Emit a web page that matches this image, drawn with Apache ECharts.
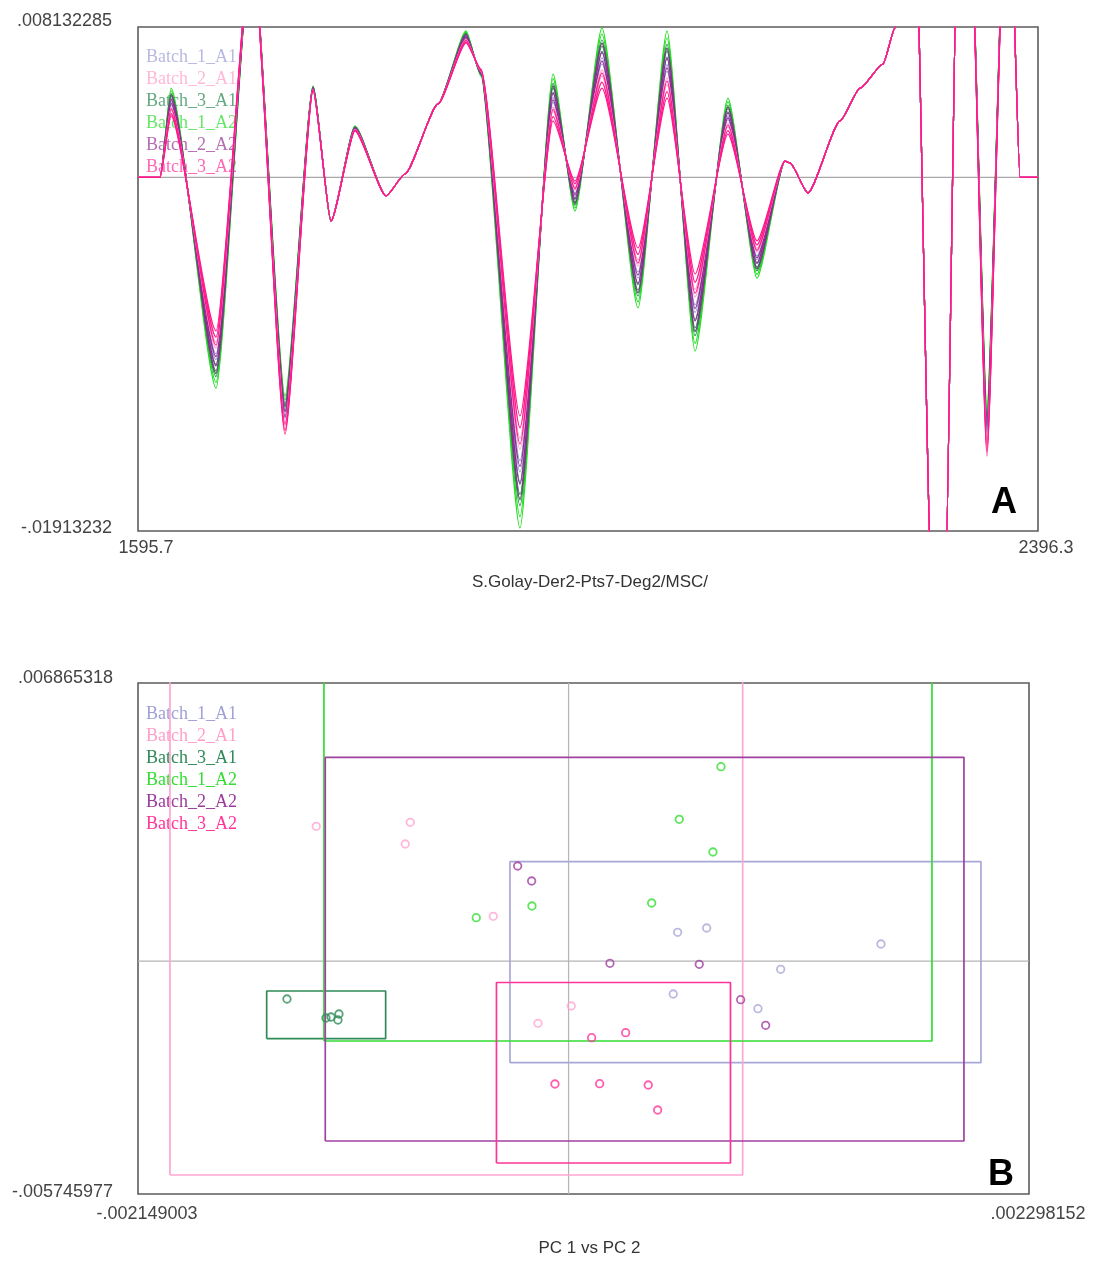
<!DOCTYPE html>
<html>
<head>
<meta charset="utf-8">
<script src="https://cdn.jsdelivr.net/npm/echarts@6/dist/echarts.min.js"></script>
<style>
  html, body { margin: 0; padding: 0; background: #fff; }
  #chart { width: 1093px; height: 1262px; }
</style>
</head>
<body>
<div id="chart"></div>
<script>
// ---------------- DATA ----------------
const batchNames = ['Batch_1_A1', 'Batch_2_A1', 'Batch_3_A1', 'Batch_1_A2', 'Batch_2_A2', 'Batch_3_A2'];

// Panel A: spectra (wavelength vertices, nm)
const wavelengths = [1595.7, 1615.3, 1625.1, 1665.1, 1697.1, 1726.5, 1751.4, 1767.4, 1788.7, 1816.3,
  1833.2, 1862.6, 1887.5, 1900.8, 1935.5, 1964.9, 1984.4, 2008.4, 2040.5, 2066.3,
  2091.2, 2120.5, 2146.3, 2171.2, 2175.7, 2191.7, 2220.2, 2238.0, 2258.4, 2269.1,
  2278.0, 2286.9, 2302.0, 2313.6, 2325.1, 2335.8, 2350.9, 2367.0, 2371.4, 2380.3,
  2396.3];
// values common to all samples (null = sample specific peak / trough)
const sharedSpectrum = [0, 0, null, null, 0.01279, null, null, -0.00236, null, -0.00101,
  0.00018, 0.00397, null, null, null, null, null, null, null, null,
  null, null, null, 0.00088, 0.00078, -0.00085, 0.00305, 0.00483, 0.00613, 0.00808,
  0.01279, 0.01495, -0.02292, -0.02292, 0.01495, 0.01495, null, 0.01495, 0.01495, 0,
  0];
// positions (indices into wavelengths) of the sample specific peaks / troughs
const peakIndex = [2, 3, 5, 6, 8, 12, 13, 14, 15, 16, 17, 18, 19, 20, 21, 22, 36];

// sample specific peak / trough values, one row per sample
const batch1A1Peaks = [
  [0.00392, -0.00955, -0.01306, 0.00478, 0.00261, 0.00753, 0.00571, -0.01534, 0.00406, -0.00085, 0.00613, -0.00512, 0.00574, -0.0069, 0.00312, -0.00425, -0.01399],
  [0.00408, -0.00986, -0.01286, 0.00481, 0.00264, 0.00759, 0.00567, -0.01594, 0.00432, -0.00101, 0.00646, -0.00545, 0.0061, -0.00731, 0.00332, -0.00445, -0.01372],
  [0.00423, -0.01016, -0.01265, 0.00483, 0.00267, 0.00766, 0.00563, -0.01655, 0.00457, -0.00117, 0.00678, -0.00577, 0.00647, -0.00773, 0.00351, -0.00465, -0.01345]
];
const batch2A1Peaks = [
  [0.00347, -0.00862, -0.01368, 0.0047, 0.00253, 0.00733, 0.00582, -0.01352, 0.0033, -0.00036, 0.00516, -0.00415, 0.00465, -0.00565, 0.00254, -0.00364, -0.0148],
  [0.00362, -0.00893, -0.01347, 0.00472, 0.00256, 0.0074, 0.00578, -0.01412, 0.00356, -0.00052, 0.00548, -0.00447, 0.00502, -0.00606, 0.00273, -0.00384, -0.01453],
  [0.00377, -0.00924, -0.01327, 0.00475, 0.00259, 0.00746, 0.00575, -0.01473, 0.00381, -0.00069, 0.00581, -0.0048, 0.00538, -0.00648, 0.00293, -0.00405, -0.01426]
];
const batch3A1Peaks = [
  [0.00425, -0.01012, -0.01262, 0.00484, 0.00268, 0.00765, 0.00562, -0.01650, 0.00460, -0.00119, 0.00682, -0.00580, 0.00650, -0.00770, 0.00354, -0.00467, -0.01342],
  [0.00438, -0.01047, -0.01245, 0.00486, 0.0027, 0.00772, 0.0056, -0.01715, 0.00483, -0.00133, 0.0071, -0.0061, 0.00683, -0.00815, 0.00371, -0.00485, -0.01318],
  [0.00453, -0.01078, -0.01224, 0.00489, 0.00272, 0.00779, 0.00556, -0.01776, 0.00508, -0.0015, 0.00743, -0.00642, 0.00719, -0.00856, 0.0039, -0.00505, -0.01291]
];
const batch1A2Peaks = [
  [0.00445, -0.01063, -0.01234, 0.00487, 0.00271, 0.00775, 0.00558, -0.01746, 0.00495, -0.00142, 0.00727, -0.00626, 0.00701, -0.00835, 0.00381, -0.00495, -0.01305],
  [0.00468, -0.01109, -0.01204, 0.00491, 0.00275, 0.00785, 0.00552, -0.01836, 0.00534, -0.00166, 0.00775, -0.00674, 0.00755, -0.00898, 0.0041, -0.00525, -0.01264],
  [0.00483, -0.0114, -0.01183, 0.00494, 0.00278, 0.00792, 0.00548, -0.01897, 0.00559, -0.00182, 0.00808, -0.00707, 0.00792, -0.0094, 0.00429, -0.00545, -0.01237]
];
const batch2A2Peaks = [
  [0.004, -0.0097, -0.01296, 0.00479, 0.00263, 0.00756, 0.00569, -0.01564, 0.00419, -0.00093, 0.00629, -0.00528, 0.00592, -0.0071, 0.00322, -0.00435, -0.01386],
  [0.0042, -0.01020, -0.01268, 0.00482, 0.00266, 0.00764, 0.00564, -0.01660, 0.00455, -0.00115, 0.00675, -0.00574, 0.00644, -0.00777, 0.00349, -0.00462, -0.01348],
  [0.00447, -0.01060, -0.01237, 0.00487, 0.00271, 0.00774, 0.00559, -0.01740, 0.00493, -0.00140, 0.00725, -0.00624, 0.00698, -0.00833, 0.00379, -0.00493, -0.01308]
];
const batch3A2Peaks = [
  [0.00332, -0.00831, -0.01389, 0.00467, 0.00251, 0.00727, 0.00586, -0.01291, 0.00305, -0.0002, 0.00483, -0.00382, 0.00429, -0.00523, 0.00234, -0.00344, -0.01508],
  [0.00345, -0.00865, -0.01370, 0.0047, 0.00253, 0.00733, 0.00582, -0.01355, 0.00328, -0.00035, 0.00514, -0.00417, 0.00463, -0.00568, 0.00252, -0.00366, -0.01482],
  [0.0037, -0.00908, -0.01337, 0.00474, 0.00257, 0.00743, 0.00577, -0.01443, 0.00368, -0.00061, 0.00564, -0.00464, 0.0052, -0.00627, 0.00283, -0.00395, -0.0144]
];

const spectraXLabels = ['1595.7', '2396.3'];
const spectraYLabels = ['-.01913232', '.008132285'];
const spectraXRange = [1595.7, 2396.3];
const spectraYRange = [-0.01913232, 0.008132285];

// Panel B: PCA scores [PC1, PC2]
const scoresBatch1A1 = [[0.0005445, 0.0007132], [0.0006893, 0.0008194], [0.0015592, 0.0004245], [0.0010586, -0.0001999], [0.0005226, -0.0008095], [0.0009453, -0.0011723]];
const scoresBatch2A1 = [[-0.0012593, 0.0033293], [-0.0007901, 0.003428], [-0.0008151, 0.0028925], [-0.0003758, 0.0011081], [0.0000135, -0.0011057], [-0.0001527, -0.0015326]];
const scoresBatch3A1 = [[-0.0014055, -0.0009329], [-0.0012109, -0.0014018], [-0.0011859, -0.0013771], [-0.001146, -0.0013031], [-0.001151, -0.0014512]];
const scoresBatch1A2 = [[0.0007607, 0.0048002], [0.0005525, 0.003502], [0.0007207, 0.002695], [0.0004148, 0.0014364], [-0.0001827, 0.0013623], [-0.0004607, 0.0010736]];
const scoresBatch2A2 = [[-0.0002541, 0.0023495], [-0.0001842, 0.0019793], [0.0002066, -0.0000518], [0.0006523, -0.0000765], [0.000859, -0.0009502], [0.0009838, -0.001582]];
const scoresBatch3A2 = [[0.0001153, -0.001888], [0.000285, -0.0017646], [-0.0000679, -0.0030307], [0.0001552, -0.0030233], [0.0003978, -0.0030553], [0.0004447, -0.0036723]];

// Panel B: batch boxes [PC1 min, PC1 max, PC2 min, PC2 max]
const boxBatch1A1 = [-0.0002925, 0.0020584, -0.002505, 0.0024556];
const boxBatch2A1 = [-0.0019895, 0.000869, -0.0052765, 0.0075];
const boxBatch3A1 = [-0.0015068, -0.0009129, -0.0019127, -0.0007355];
const boxBatch1A2 = [-0.0012209, 0.0018138, -0.0019694, 0.0075];
const boxBatch2A2 = [-0.0012143, 0.0019735, -0.0044374, 0.0050322];
const boxBatch3A2 = [-0.0003599, 0.0008081, -0.0049803, -0.0005257];

const scoresXLabels = ['-.002149003', '.002298152'];
const scoresYLabels = ['-.005745977', '.006865318'];
const scoresXRange = [-0.002149003, 0.002298152];
const scoresYRange = [-0.005745977, 0.006865318];

// ---------------- STYLE ----------------
const lineColors = {
  'Batch_1_A1': '#9c9cd8', 'Batch_2_A1': '#ff9ccc', 'Batch_3_A1': '#2e8b57',
  'Batch_1_A2': '#22dd22', 'Batch_2_A2': '#8e2c8e', 'Batch_3_A2': '#ff1a8c'
};
const legendColors = {
  'Batch_1_A1': '#a0a0d8', 'Batch_2_A1': '#ffa0c8', 'Batch_3_A1': '#2e8b57',
  'Batch_1_A2': '#33dd33', 'Batch_2_A2': '#9b3b9b', 'Batch_3_A2': '#ff3399'
};
const boxColors = {
  'Batch_1_A1': '#a8a8d8', 'Batch_2_A1': '#ffa6d2', 'Batch_3_A1': '#2e8b57',
  'Batch_1_A2': '#33dd33', 'Batch_2_A2': '#a040a0', 'Batch_3_A2': '#ff3399'
};

// ---------------- BUILD ----------------
function buildSpectrum(peaks) {
  const vals = sharedSpectrum.slice();
  peakIndex.forEach((idx, k) => { vals[idx] = peaks[k]; });
  return wavelengths.map((w, i) => [w, vals[i]]);
}
function edgeFormatter(range, labels) {
  const tol = Math.abs(range[1] - range[0]) * 1e-6;
  return function (v) {
    if (Math.abs(v - range[0]) < tol) return '{lo|' + labels[0] + '}';
    if (Math.abs(v - range[1]) < tol) return '{hi|' + labels[1] + '}';
    return '';
  };
}
function boxPath(b) {
  return [[b[0], b[2]], [b[1], b[2]], [b[1], b[3]], [b[0], b[3]], [b[0], b[2]]];
}

const tickFont = { fontFamily: 'Liberation Sans', fontSize: 18, color: '#444' };
function richLabels(loPad, hiPad) {
  return {
    lo: Object.assign({ padding: loPad }, tickFont),
    hi: Object.assign({ padding: hiPad }, tickFont)
  };
}
const peaksByBatch = {
  'Batch_1_A1': batch1A1Peaks, 'Batch_2_A1': batch2A1Peaks, 'Batch_3_A1': batch3A1Peaks,
  'Batch_1_A2': batch1A2Peaks, 'Batch_2_A2': batch2A2Peaks, 'Batch_3_A2': batch3A2Peaks
};
const drawOrder = ['Batch_1_A2', 'Batch_3_A1', 'Batch_1_A1', 'Batch_2_A2', 'Batch_2_A1', 'Batch_3_A2'];

const series = [];
// zero line for panel A
series.push({
  type: 'line', xAxisIndex: 0, yAxisIndex: 0, data: [[spectraXRange[0], 0], [spectraXRange[1], 0]],
  showSymbol: false, silent: true, lineStyle: { color: '#a8a8a8', width: 1.2 }, z: 1
});
drawOrder.forEach(name => {
  peaksByBatch[name].forEach(p => {
    series.push({
      name: name, type: 'line', xAxisIndex: 0, yAxisIndex: 0,
      data: buildSpectrum(p), showSymbol: false, clip: true, silent: true,
      smooth: 0.2, smoothMonotone: 'x',
      lineStyle: { color: lineColors[name], width: 1.2 }, itemStyle: { color: lineColors[name] },
      emphasis: { disabled: true }, z: 2
    });
  });
});
// zero lines for panel B
series.push({
  type: 'line', xAxisIndex: 1, yAxisIndex: 1, data: [[scoresXRange[0], 0], [scoresXRange[1], 0]],
  showSymbol: false, silent: true, lineStyle: { color: '#b4b4b4', width: 1.2 }, z: 1
});
series.push({
  type: 'line', xAxisIndex: 1, yAxisIndex: 1, data: [[0, scoresYRange[0]], [0, scoresYRange[1]]],
  showSymbol: false, silent: true, lineStyle: { color: '#b4b4b4', width: 1.2 }, z: 1
});
const boxes = {
  'Batch_1_A1': boxBatch1A1, 'Batch_2_A1': boxBatch2A1, 'Batch_3_A1': boxBatch3A1,
  'Batch_1_A2': boxBatch1A2, 'Batch_2_A2': boxBatch2A2, 'Batch_3_A2': boxBatch3A2
};
const scores = {
  'Batch_1_A1': scoresBatch1A1, 'Batch_2_A1': scoresBatch2A1, 'Batch_3_A1': scoresBatch3A1,
  'Batch_1_A2': scoresBatch1A2, 'Batch_2_A2': scoresBatch2A2, 'Batch_3_A2': scoresBatch3A2
};
batchNames.forEach(name => {
  series.push({
    name: name, type: 'line', xAxisIndex: 1, yAxisIndex: 1, data: boxPath(boxes[name]),
    showSymbol: false, clip: true, silent: true,
    lineStyle: { color: boxColors[name], width: 1.7 }, itemStyle: { color: boxColors[name] }, z: 2
  });
});
batchNames.forEach(name => {
  series.push({
    name: name, type: 'scatter', xAxisIndex: 1, yAxisIndex: 1, data: scores[name],
    symbol: 'circle', symbolSize: 7.5, silent: true,
    itemStyle: { color: 'rgba(255,255,255,0)', borderColor: boxColors[name], borderWidth: 1.8 }, z: 3
  });
});

function legendFor(top, opacity) {
  return {
    orient: 'vertical', left: 141, top: top, itemGap: 0, itemWidth: 0, itemHeight: 0, padding: 0,
    selectedMode: false, z: 1,
    textStyle: { fontFamily: 'Liberation Serif', fontSize: 18, lineHeight: 22 },
    data: batchNames.map(n => ({ name: n, icon: 'none', textStyle: { color: legendColors[n], opacity: opacity } }))
  };
}

const option = {
  animation: false,
  backgroundColor: '#fff',
  grid: [
    { left: 138, top: 27, width: 900, height: 504, show: true, borderColor: '#5c5c5c', borderWidth: 1.6, backgroundColor: '#fff' },
    { left: 138, top: 683, width: 891, height: 511, show: true, borderColor: '#5c5c5c', borderWidth: 1.6, backgroundColor: '#fff' }
  ],
  legend: [legendFor(46, 0.75), legendFor(703, 1)],
  xAxis: [
    {
      type: 'value', gridIndex: 0, min: spectraXRange[0], max: spectraXRange[1],
      splitLine: { show: false }, axisLine: { show: false }, axisTick: { show: false },
      axisLabel: Object.assign({ formatter: edgeFormatter(spectraXRange, spectraXLabels), margin: 8, padding: [0, 0, 0, 16], rich: richLabels([0, 0, 0, 0], [0, 0, 0, 0]) }, tickFont),
      name: 'S.Golay-Der2-Pts7-Deg2/MSC/', nameLocation: 'middle', nameGap: 43,
      nameTextStyle: { fontFamily: 'Liberation Sans', fontSize: 17, color: '#333', padding: [0, 0, 0, 4] }
    },
    {
      type: 'value', gridIndex: 1, min: scoresXRange[0], max: scoresXRange[1],
      splitLine: { show: false }, axisLine: { show: false }, axisTick: { show: false },
      axisLabel: Object.assign({ formatter: edgeFormatter(scoresXRange, scoresXLabels), margin: 11, padding: [0, 0, 0, 18], rich: richLabels([0, 0, 0, 0], [0, 0, 0, 0]) }, tickFont),
      name: 'PC 1 vs PC 2', nameLocation: 'middle', nameGap: 46,
      nameTextStyle: { fontFamily: 'Liberation Sans', fontSize: 17, color: '#333', padding: [0, 0, 0, 12] }
    }
  ],
  yAxis: [
    {
      type: 'value', gridIndex: 0, min: spectraYRange[0], max: spectraYRange[1],
      splitLine: { show: false }, axisLine: { show: false }, axisTick: { show: false },
      axisLabel: Object.assign({ formatter: edgeFormatter(spectraYRange, spectraYLabels), margin: 26, rich: richLabels([0, 0, 6, 0], [0, 0, 12, 0]) }, tickFont)
    },
    {
      type: 'value', gridIndex: 1, min: scoresYRange[0], max: scoresYRange[1],
      splitLine: { show: false }, axisLine: { show: false }, axisTick: { show: false },
      axisLabel: Object.assign({ formatter: edgeFormatter(scoresYRange, scoresYLabels), margin: 25, rich: richLabels([0, 0, 4, 0], [0, 0, 10, 0]) }, tickFont)
    }
  ],
  graphic: [
    { type: 'text', z: 100, style: { text: 'A', x: 1004, y: 503, align: 'center', verticalAlign: 'middle', textAlign: 'center', textVerticalAlign: 'middle', font: 'bold 36px "Liberation Sans"', fill: '#000' } },
    { type: 'text', z: 100, style: { text: 'B', x: 1001, y: 1175, align: 'center', verticalAlign: 'middle', textAlign: 'center', textVerticalAlign: 'middle', font: 'bold 36px "Liberation Sans"', fill: '#000' } }
  ],
  series: series
};

const chart = echarts.init(document.getElementById('chart'), null, { renderer: 'canvas' });
chart.setOption(option);
</script>
</body>
</html>
